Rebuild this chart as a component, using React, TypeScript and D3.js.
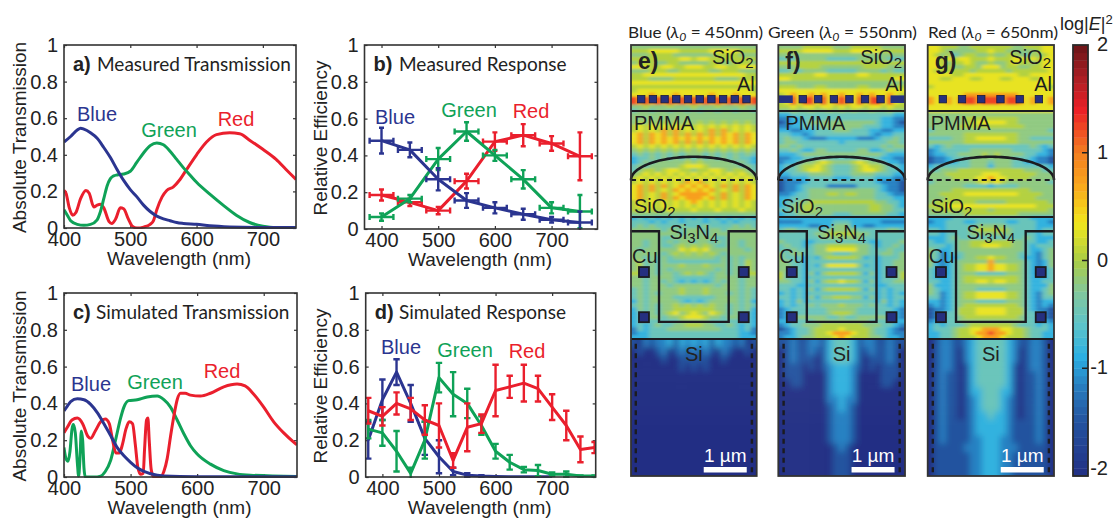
import React, { useEffect, useRef } from 'react';
import * as d3 from 'd3';

type Pt = [number, number];
type ErrPt = [number, number, number]; // wavelength, value, y error

const sans = '"Liberation Sans", Arial, sans-serif';
const humanist = 'Lato, "Noto Sans", sans-serif';

const BLUE = '#2b3590';
const GREEN = '#0fa257';
const RED = '#ea1f2d';

// a) measured transmission
const aBlue: Pt[] = [[400,.47],[410,.50],[420,.535],[425,.545],[430,.54],[440,.52],[450,.49],[460,.44],[470,.385],[480,.32],[490,.26],[500,.21],[510,.17],[520,.125],[530,.09],[540,.065],[550,.05],[560,.04],[570,.03],[580,.025],[600,.02],[620,.012],[650,.006],[700,.003],[750,.003]];
const aGreen: Pt[] = [[400,.10],[405,.07],[410,.04],[420,.02],[430,.015],[440,.02],[450,.045],[455,.09],[460,.16],[465,.23],[470,.27],[475,.285],[480,.29],[490,.295],[500,.31],[510,.36],[520,.41],[530,.45],[540,.465],[550,.455],[560,.42],[570,.375],[580,.33],[590,.29],[600,.25],[620,.185],[640,.125],[660,.07],[680,.03],[700,.01],[720,.002],[750,.003]];
const aRed: Pt[] = [[400,.205],[403,.19],[408,.11],[413,.07],[418,.085],[425,.16],[433,.205],[438,.19],[445,.115],[450,.125],[455,.13],[460,.11],[468,.035],[472,.025],[478,.05],[485,.11],[490,.105],[497,.05],[503,.01],[510,0],[520,.005],[530,.02],[535,.04],[540,.10],[548,.17],[555,.205],[565,.225],[575,.265],[585,.32],[600,.40],[615,.47],[630,.51],[650,.52],[665,.515],[680,.48],[700,.43],[720,.375],[735,.32],[750,.265]];

// b) measured response
const bBlue: ErrPt[] = [[400,.48,.07],[450,.43,.04],[500,.27,.06],[550,.155,.04],[600,.115,.03],[650,.08,.03],[700,.05,.015],[750,.035,.06]];
const bGreen: ErrPt[] = [[400,.065,.02],[450,.165,.02],[500,.38,.06],[550,.53,.05],[600,.40,.03],[650,.27,.05],[700,.115,.03],[750,.095,.09]];
const bRed: ErrPt[] = [[400,.185,.03],[450,.145,.02],[500,.10,.02],[550,.26,.04],[600,.475,.05],[650,.51,.06],[700,.465,.04],[750,.395,.13]];

// c) simulated transmission
const cBlue: Pt[] = [[400,.36],[405,.385],[410,.41],[420,.425],[430,.42],[440,.395],[450,.35],[460,.29],[470,.225],[480,.16],[490,.115],[500,.08],[510,.05],[520,.03],[530,.018],[550,.006],[600,.002],[750,.001]];
const cGreen: Pt[] = [[400,.16],[403,.10],[406,.085],[409,.14],[412,.26],[414,.285],[417,.24],[420,.08],[422,.005],[424,.10],[426,.25],[428,.20],[430,.05],[432,0],[436,0],[445,0],[455,.005],[462,.03],[470,.09],[478,.21],[485,.32],[490,.38],[497,.415],[510,.42],[525,.435],[540,.44],[550,.42],[560,.38],[570,.31],[580,.235],[590,.17],[600,.125],[620,.07],[640,.035],[660,.017],[680,.01],[750,.003]];
const cRed: Pt[] = [[400,.24],[405,.27],[412,.31],[420,.32],[428,.29],[436,.22],[440,.21],[447,.25],[455,.30],[462,.315],[468,.29],[473,.20],[478,.13],[483,.13],[488,.18],[493,.26],[498,.30],[503,.29],[507,.18],[511,.05],[515,.015],[519,.02],[521,.15],[524,.31],[526,.32],[528,.20],[531,.04],[535,0],[545,0],[550,.03],[555,.10],[560,.22],[565,.33],[570,.42],[575,.455],[582,.455],[590,.445],[605,.44],[620,.455],[640,.49],[660,.505],[672,.495],[685,.45],[700,.38],[715,.30],[730,.24],[745,.19],[750,.175]];

// d) simulated response
const dBlue: ErrPt[] = [[375,.20,.10],[400,.42,.11],[425,.57,.07],[450,.40,.10],[475,.21,.09],[500,.11,.09],[525,.03,.02],[550,.01,.01],[575,.005,.005],[600,.003,0],[625,.002,0],[650,.001,0],[675,.001,0],[700,.001,0]];
const dGreen: ErrPt[] = [[375,.26,.05],[400,.24,.07],[425,.14,.11],[450,.02,.03],[475,.20,.10],[500,.54,.08],[525,.45,.12],[550,.40,.08],[575,.28,.05],[600,.14,.04],[625,.08,.04],[650,.04,.015],[675,.035,.03],[700,.015,.01],[725,.015,.015],[750,.005,.003],[775,.005,.003]];
const dRed: ErrPt[] = [[375,.36,.07],[400,.33,.05],[425,.40,.06],[450,.37,.06],[475,.31,.08],[500,.28,.12],[525,.09,.04],[550,.27,.13],[575,.29,.05],[600,.47,.14],[625,.49,.06],[650,.51,.10],[675,.48,.07],[700,.38,.07],[725,.28,.08],[750,.15,.07],[775,.16,.03]];

// field maps: one digit per cell, half a panel from the edge to the centre line
const heatLevels = [-2, -1.5, -1.15, -.85, -.5, -.2, .05, .3, .75, 1.25];

const upperE = [
  '55555555555','66677777666','55566665555','66666666776','56665566555','77766776677','55566655666','66777777777',
  '66655556666','77777777777','66666666666','67777777777','77787778777','98989898989','98989898989','55655565556',
  '45545545545','55555555555','55555555555','56565656565','67676767676','67676868676','78687868686','78687878787',
  '78687878686','67676767676','56565656565','45454545455','34454545454','34545555565','45455555677','45665677665',
  '56767676767','67676767676','67676767687','78686867878','78686768787','78676867888','78676868788','67676767678',
  '67676767676','66766676667','55555555555','34343434343','44434344344','45454444544','55555455455','55555555455',
  '55555445555','55455454554','55455445656','54555555767','55555456565','55454545555','56454544444','56454555655',
  '56454545555','66454554565','55455554444','55455454343','55455545555','45455555655','45454555655','45455554444',
  '35455555434','45454556565','35454556666','34454567567','34455455677','34444444555','34345445566','24344455555',
  '23344444444','33344444444',
];
const upperF = [
  '55556666655','66667777766','55555555555','44455555444','66666666666','55566665555','44545555444','66666677666',
  '77666666666','55555555555','66655566555','77777777777','67877878778','67979979789','67979979789','66767767767',
  '55655655656','33444444444','22334444444','12334555555','22334445555','33223344455','44332344444','45443222333',
  '45544444443','55454444444','44543355444','33345555555','22334444444','23345567655','34456676544','34456776544',
  '33444555544','22333444433','12223444444','12234444222','12234555555','22344555665','33444555555','34455666666',
  '34556655555','44556655555','34455555544','33333333333','22223333344','33333223355','45544444555','44444455666',
  '44444445555','54443344444','45443455666','44544455777','54554455544','54443435666','55443444444','55443435777',
  '55443444444','64443535666','64443444444','55443535667','44433444444','44343535666','34343444444','44343535566',
  '34353444444','34344545556','23444444555','23344444566','23455555445','33444455555','23445556666','12344566667',
  '22344566788','23345566678',
];
const upperG = [
  '77666556666','77655555667','76564566556','77676776667','77656676556','77665566577','76666665666','77776677777',
  '77667776677','77777777777','67777777777','77777777777','77777788888','87787899899','87787899899','77777777777',
  '77777777777','55555555555','55555566666','55555566777','55555666666','45555555555','55555566666','44445566777',
  '55555566666','43454444444','23444445555','23344555565','12234445555','12233445554','34444445553','44555666666',
  '55566666677','55556666778','45555555676','55555544443','55556666666','55666677777','55566666666','56666666555',
  '66677777777','56666666665','55555566666','33334444444','23344433444','33344444555','44344445666','44344445555',
  '33345444444','43344556666','44434556677','54334555555','54234455555','54233455667','53234555558','53234566778',
  '43234566778','43234555444','43334566666','44334566776','53334555555','54334555444','54234566777','44234566777',
  '33234555444','23234566666','12234666777','12344666777','12344566666','23344555555','34344456666','34445667788',
  '33445667889','33445666788',
];
const siE = ['10212231323','01001201212','00000100111','00000000101','00000000000','00000000000','00000000000','00000000000','00000000000','00000000000','00000000000','00000000000','00000000000','00000000000','00000000000','00000000000','00000000000'];
const siF = ['11211221344','01211211344','01211101344','01110101233','01110000233','00110000233','00000000233','00000000223','00000000123','00000000122','00000000122','00000000122','00000000122','00000000012','00000000011','00000000011','00000000011'];
const siG = ['01221123444','01221023444','01221023444','01221013444','01211013444','01211013444','01211013344','01211012344','01211012344','01211012334','01211112333','01211112333','01211112233','01111122233','01111112233','01111112233','01111112233'];

// device geometry in micrometres
const alE = d3.range(-4.5, 5).map(d => d * .272);
const alF = d3.range(-2.5, 3).map(d => d * .362);
const alEndsF = [-1.3, 1.3];
const alG = d3.range(-2.5, 3).map(d => d * .447);
const layerLines = [1.535, 4, 6.84];
const wellPath: Pt[] = [[-1.47, 4.33], [-.81, 4.33], [-.81, 6.44], [.81, 6.44], [.81, 4.33], [1.47, 4.33]];
const cuSquares: Pt[] = [[-1.16, 5.28], [1.16, 5.28], [-1.16, 6.33], [1.16, 6.33]];

const barStops = [-2, -1.5, -1.2, -.9, -.6, -.3, 0, .35, .7, 1, 1.4, 1.7, 2];
const barColors = ['#222f84', '#23529f', '#2878bb', '#2aaee3', '#5dc3c9', '#82c79d', '#aacd45', '#f2e71c', '#f9a61c', '#f37e20', '#ec1f26', '#a91f24', '#6a1518'];

const nmTicks = [400, 500, 600, 700];
const effTicks = [0, .2, .4, .6, .8, 1];

const App = () => {
  const ref = useRef<SVGSVGElement>(null);

  useEffect(() => {
    const svg = d3.select(ref.current);
    svg.selectAll('*').remove();
    svg.style('background', '#fff');
    const defs = svg.append('defs');
    defs.append('filter').attr('id', 'soft').append('feGaussianBlur').attr('stdDeviation', '2 1.3');
    defs.append('filter').attr('id', 'softer').append('feGaussianBlur').attr('stdDeviation', '3');

    const label = (g, x, y, str, size, fill = '#222', anchor = 'middle', font = sans) =>
      g.append('text').attr('x', x).attr('y', y).attr('dy', '.35em').attr('text-anchor', anchor)
        .style('font-family', font).style('font-size', `${size}px`).style('fill', fill).text(str);

    const panel = (p) => {
      const x = d3.scaleLinear().domain(p.xDomain).range([p.left, p.right]);
      const y = d3.scaleLinear().domain([0, 1]).range([p.bottom, p.top]);
      const g = svg.append('g');

      const axisStyle = (a) => {
        a.select('.domain').remove();
        a.selectAll('line').attr('stroke', '#333').attr('stroke-width', 1.2);
        a.selectAll('text').style('font-family', sans).style('font-size', '20px').style('fill', '#222');
      };
      g.append('g').attr('transform', `translate(0,${p.bottom})`)
        .call(d3.axisBottom(x).tickValues(nmTicks).tickSize(-3).tickPadding(4)).call(axisStyle);
      g.append('g').attr('transform', `translate(0,${p.top})`)
        .call(d3.axisTop(x).tickValues(nmTicks).tickSize(-3).tickFormat(() => '')).call(axisStyle);
      g.append('g').attr('transform', `translate(${p.left},0)`)
        .call(d3.axisLeft(y).tickValues(effTicks).tickSize(-3).tickPadding(6).tickFormat(d => String(d))).call(axisStyle);
      g.append('g').attr('transform', `translate(${p.right},0)`)
        .call(d3.axisRight(y).tickValues(effTicks).tickSize(-3).tickFormat(() => '')).call(axisStyle);

      const clipId = `clip-${p.tag}`;
      defs.append('clipPath').attr('id', clipId).append('rect')
        .attr('x', p.left).attr('y', p.top).attr('width', p.right - p.left).attr('height', p.bottom - p.top + 1);
      const plot = g.append('g').attr('clip-path', `url(#${clipId})`);
      const line = d3.line().x(d => x(d[0])).y(d => y(d[1]));
      if (p.curves) line.curve(d3.curveMonotoneX);

      p.series.forEach(s => {
        plot.append('path').datum(s.data).attr('d', line).attr('fill', 'none')
          .attr('stroke', s.color).attr('stroke-width', 3).attr('stroke-linejoin', 'round');
        if (!p.curves) {
          const bars = plot.append('g').attr('stroke', s.color).attr('stroke-width', 2.4).attr('fill', 'none');
          s.data.forEach(d => {
            if (d[2] > 0) {
              bars.append('line').attr('x1', x(d[0])).attr('x2', x(d[0])).attr('y1', y(d[1] - d[2])).attr('y2', y(d[1] + d[2]));
              [-1, 1].forEach(k => bars.append('line').attr('x1', x(d[0]) - p.cap).attr('x2', x(d[0]) + p.cap)
                .attr('y1', y(d[1] + k * d[2])).attr('y2', y(d[1] + k * d[2])));
            }
            if (p.xErr) {
              bars.append('line').attr('x1', x(d[0] - p.xErr)).attr('x2', x(d[0] + p.xErr)).attr('y1', y(d[1])).attr('y2', y(d[1]));
              [-1, 1].forEach(k => bars.append('line').attr('x1', x(d[0] + k * p.xErr)).attr('x2', x(d[0] + k * p.xErr))
                .attr('y1', y(d[1]) - 3).attr('y2', y(d[1]) + 3));
            }
          });
        }
        label(g, s.lx, s.ly, s.name, 20, s.color);
      });

      g.append('rect').attr('x', p.left).attr('y', p.top).attr('width', p.right - p.left)
        .attr('height', p.bottom - p.top).attr('fill', 'none').attr('stroke', '#333').attr('stroke-width', 1.6);

      label(g, (p.left + p.right) / 2 - 1, p.bottom + 30, 'Wavelength (nm)', 19);
      label(g, 0, 0, p.yTitle, 19).attr('transform', `translate(${p.yx},${(p.top + p.bottom) / 2 + 1}) rotate(-90)`);
      label(g, p.left + 9, p.top + 19, p.tag + ')', 20, '#222', 'start').style('font-weight', 'bold');
      label(g, p.titleX, p.top + 19, p.title, 19, '#222', 'start', humanist);
    };

    panel({
      tag: 'a', title: 'Measured Transmission', yTitle: 'Absolute Transmission', titleX: 97, yx: 19, curves: true,
      left: 64, right: 296, top: 45, bottom: 228, xDomain: [400, 750],
      series: [
        { name: 'Red', data: aRed, color: RED, lx: 236, ly: 119 },
        { name: 'Green', data: aGreen, color: GREEN, lx: 169, ly: 130 },
        { name: 'Blue', data: aBlue, color: BLUE, lx: 97, ly: 114 },
      ],
    });
    panel({
      tag: 'b', title: 'Measured Response', yTitle: 'Relative Efficiency', titleX: 399, yx: 320, cap: 2.5, xErr: 21,
      left: 364.5, right: 597.5, top: 45, bottom: 229, xDomain: [370, 781],
      series: [
        { name: 'Red', data: bRed, color: RED, lx: 531, ly: 111 },
        { name: 'Green', data: bGreen, color: GREEN, lx: 469, ly: 110 },
        { name: 'Blue', data: bBlue, color: BLUE, lx: 395, ly: 117 },
      ],
    });
    panel({
      tag: 'c', title: 'Simulated Transmission', yTitle: 'Absolute Transmission', titleX: 96, yx: 19, curves: true,
      left: 64, right: 297, top: 293, bottom: 477, xDomain: [400, 750],
      series: [
        { name: 'Green', data: cGreen, color: GREEN, lx: 155, ly: 382 },
        { name: 'Red', data: cRed, color: RED, lx: 222, ly: 371 },
        { name: 'Blue', data: cBlue, color: BLUE, lx: 91, ly: 384 },
      ],
    });
    panel({
      tag: 'd', title: 'Simulated Response', yTitle: 'Relative Efficiency', titleX: 399, yx: 320, cap: 3.2,
      left: 365.7, right: 595.7, top: 293, bottom: 477, xDomain: [370.5, 777],
      series: [
        { name: 'Blue', data: dBlue, color: BLUE, lx: 401, ly: 347 },
        { name: 'Green', data: dGreen, color: GREEN, lx: 465, ly: 350 },
        { name: 'Red', data: dRed, color: RED, lx: 527, ly: 351 },
      ],
    });

    // colour scale shared by the maps and the bar
    const color = d3.scaleLinear<string>().domain(barStops).range(barColors).interpolate(d3.interpolateRgb);

    const fieldPanel = (f) => {
      const g = svg.append('g');
      const w = f.right - f.left;
      const cx = f.left + w / 2;
      const dx = d3.scaleLinear().domain([0, 1]).range([cx, cx + 43]);
      const dy = d3.scaleLinear().domain([0, 10]).range([45, 475]);
      const top = 45, bottom = 476;
      const siTop = dy(layerLines[2]);
      const col = d3.scaleBand().domain(d3.range(21).map(String)).range([f.left, f.right]);

      // cells of one region, blurred and clipped to that region
      const cells = (rows, y0, y1, filter) => {
        const clipId = `${filter}-${f.tag}`;
        defs.append('clipPath').attr('id', clipId).append('rect').attr('x', f.left).attr('y', y0).attr('width', w).attr('height', y1 - y0);
        const row = d3.scaleBand().domain(d3.range(rows.length).map(String)).range([y0, y1]);
        const layer = g.append('g').attr('clip-path', `url(#${clipId})`).append('g').attr('filter', `url(#${filter})`);
        rows.forEach((half, i) => {
          const full = half + half.slice(0, 10).split('').reverse().join('');
          const padY = i === 0 || i === rows.length - 1 ? 8 : 0;
          full.split('').forEach((c, j) => {
            const padX = j === 0 || j === 20 ? 8 : 0;
            layer.append('rect')
              .attr('x', col(String(j)) - (j === 0 ? padX : 0)).attr('y', row(String(i)) - (i === 0 ? padY : 0))
              .attr('width', col.bandwidth() + padX + .3).attr('height', row.bandwidth() + padY + .3)
              .attr('fill', color(heatLevels[+c]));
          });
        });
      };
      cells(f.upper, top, siTop, 'soft');
      cells(f.si, siTop, bottom, 'softer');

      const ink = '#1b1b20';
      const navy = '#25307f';
      // Al grating
      f.ends.forEach(a => {
        g.append('rect').attr('x', dx(a) - 7).attr('y', dy(1.26) - 3.8).attr('width', 14).attr('height', 7.6).attr('fill', navy);
      });
      f.al.forEach(a => {
        g.append('rect').attr('x', dx(a) - 3.7).attr('y', dy(1.26) - 3.7).attr('width', 7.4).attr('height', 7.4)
          .attr('fill', navy).attr('stroke', '#1a1a3a').attr('stroke-width', .8);
      });
      // layer boundaries
      layerLines.forEach(v => {
        g.append('line').attr('x1', f.left).attr('x2', f.right).attr('y1', dy(v)).attr('y2', dy(v)).attr('stroke', ink).attr('stroke-width', 2);
      });
      // microlens
      const lens = d3.line().x(t => cx + (w / 2) * Math.cos(t)).y(t => dy(3.14) - (dy(3.14) - dy(2.6)) * Math.sin(t));
      g.append('path').datum(d3.range(0, Math.PI + .02, .05)).attr('d', lens).attr('fill', 'none').attr('stroke', ink).attr('stroke-width', 2.6);
      g.append('line').attr('x1', f.left).attr('x2', f.right).attr('y1', dy(3.14)).attr('y2', dy(3.14))
        .attr('stroke', ink).attr('stroke-width', 2.2).attr('stroke-dasharray', '5 4');
      // Cu well
      const well = d3.line().x(d => dx(d[0])).y(d => dy(d[1]));
      g.append('path').datum(wellPath).attr('d', well).attr('fill', 'none').attr('stroke', ink).attr('stroke-width', 2.4);
      cuSquares.forEach(d => {
        g.append('rect').attr('x', dx(d[0]) - 5).attr('y', dy(d[1]) - 5).attr('width', 10).attr('height', 10)
          .attr('fill', navy).attr('stroke', ink).attr('stroke-width', 1.8);
      });
      // Si side dashes
      [-1.35, 1.35].forEach(v => {
        g.append('line').attr('x1', dx(v)).attr('x2', dx(v)).attr('y1', dy(6.95)).attr('y2', dy(9.95))
          .attr('stroke', ink).attr('stroke-width', 2.4).attr('stroke-dasharray', '5 4.5');
      });
      g.append('rect').attr('x', f.left).attr('y', top).attr('width', w).attr('height', bottom - top)
        .attr('fill', 'none').attr('stroke', '#333').attr('stroke-width', 1.8);

      // formula text: plain parts keep the parent's baseline, digits drop down
      const chem = (x, y, anchor, parts) => {
        const t = label(g, x, y, '', 20, '#1d1d1d', anchor);
        parts.forEach(([s, sub]) => {
          const span = t.append('tspan').style('font-size', sub === 1 ? '15px' : '20px').text(s);
          if (sub !== 0) span.attr('dy', sub === 1 ? 4 : -4);
        });
      };
      label(g, f.right - 2, 84, 'Al', 20, '#1d1d1d', 'end');
      chem(f.right - 3, 57, 'end', [['SiO', 0], ['2', 1]]);
      label(g, f.left + f.pmmaOff, 123, 'PMMA', 20, '#1d1d1d', 'start');
      chem(f.left + 3, 206, 'start', [['SiO', 0], ['2', 1]]);
      chem(cx, 232, 'middle', [['Si', 0], ['3', 1], ['N', -1], ['4', 1]]);
      label(g, f.left + 1, 256, 'Cu', 20, '#1d1d1d', 'start');
      label(g, cx, 354, 'Si', 20);
      label(g, f.left + f.tagOff, 61, f.tag + ')', 23, '#222', 'start').style('font-weight', 'bold');
      // scale bar, 1 um long
      g.append('rect').attr('x', dx(.23)).attr('y', 467).attr('width', dx(1) - dx(0)).attr('height', 5.5).attr('fill', '#fff');
      label(g, dx(.23) + 21.5, 455, '1 µm', 19, '#fff');

      const head = label(g, f.titleX, 33, '', 15.5, '#222', 'start', humanist).attr('textLength', f.titleW).attr('lengthAdjust', 'spacingAndGlyphs');
      head.append('tspan').text(`${f.name} (`);
      head.append('tspan').style('font-style', 'italic').text('λ');
      head.append('tspan').style('font-style', 'italic').style('font-size', '11px').attr('dy', 3).text('0');
      head.append('tspan').attr('dy', -3).text(f.eq);
    };

    fieldPanel({ tag: 'e', name: 'Blue', eq: ' = 450nm)', left: 631, right: 756.7, upper: upperE, si: siE, al: alE, ends: [], pmmaOff: 3, tagOff: 7, titleX: 628, titleW: 135 });
    fieldPanel({ tag: 'f', name: 'Green', eq: ' = 550nm)', left: 778.3, right: 905, upper: upperF, si: siF, al: alF, ends: alEndsF, pmmaOff: 7, tagOff: 7, titleX: 768, titleW: 149 });
    fieldPanel({ tag: 'g', name: 'Red', eq: ' = 650nm)', left: 927.7, right: 1054, upper: upperG, si: siG, al: alG, ends: [], pmmaOff: 3, tagOff: 7, titleX: 928, titleW: 130 });

    // colour bar
    const bar = svg.append('g');
    const by = d3.scaleLinear().domain([-2, 2]).range([476, 45]);
    const steps = d3.range(-2, 2, 4 / 56);
    bar.selectAll('rect').data(steps).enter().append('rect')
      .attr('x', 1073).attr('width', 15).attr('y', d => by(d + 4 / 56)).attr('height', (by(-2) - by(2)) / 56 + .4)
      .attr('fill', d => color(d + 2 / 56));
    bar.append('rect').attr('x', 1073).attr('y', 45).attr('width', 15).attr('height', 431)
      .attr('fill', 'none').attr('stroke', '#2a2a2a').attr('stroke-width', 1.8);
    [-2, -1, 0, 1, 2].forEach(v => {
      if (Math.abs(v) < 2) bar.append('line').attr('x1', 1082).attr('x2', 1088).attr('y1', by(v)).attr('y2', by(v)).attr('stroke', '#222').attr('stroke-width', 1.5);
      label(bar, 1108, v === -2 ? 468 : by(v) - 1, String(v), 20, '#222', 'end');
    });
    const unit = label(bar, 1060, 24, 'log|', 18, '#222', 'start');
    unit.append('tspan').style('font-style', 'italic').text('E');
    unit.append('tspan').text('|');
    unit.append('tspan').attr('dy', -6).style('font-size', '13px').text('2');
  }, []);

  return <svg ref={ref} width={1115} height={518} style={{ position: 'absolute', left: 0, top: 0 }} />;
};

export default App;
